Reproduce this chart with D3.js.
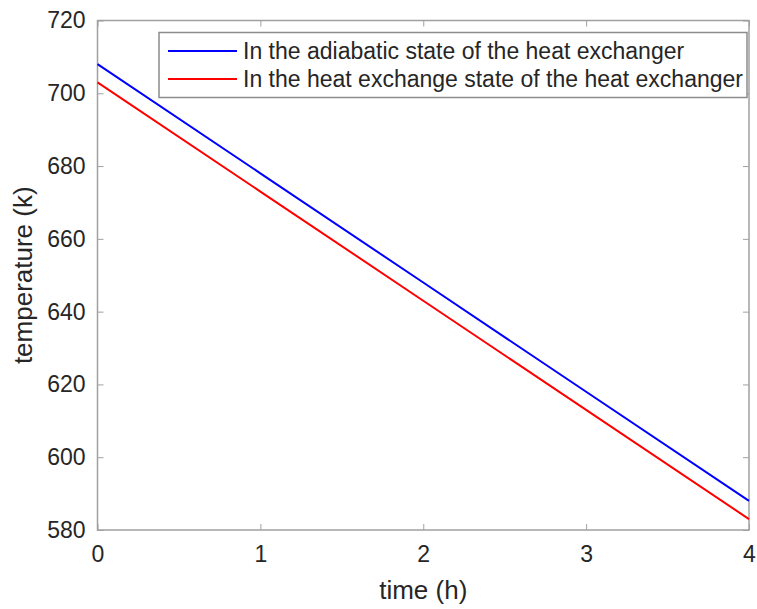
<!DOCTYPE html>
<html>
<head>
<meta charset="utf-8">
<script src="https://cdn.jsdelivr.net/npm/d3@7"></script>
<style>
  html, body { margin: 0; padding: 0; background: #fff; }
  svg { display: block; font-family: "Liberation Sans", Arial, Helvetica, sans-serif; }
</style>
</head>
<body>
<svg id="chart" width="757" height="609"></svg>
<script>
// Time in hours
const timeH = [0, 1, 2, 3, 4];
// Temperature (K) with the heat exchanger adiabatic
const adiabatic = [708, 678, 648, 618, 588];
// Temperature (K) with the heat exchanger exchanging heat
const heatExchange = [703, 673, 643, 613, 583];
const xTicks = [0, 1, 2, 3, 4];
const yTicks = [580, 600, 620, 640, 660, 680, 700, 720];
const seriesNames = [
  "In the adiabatic state of the heat exchanger",
  "In the heat exchange state of the heat exchanger"
];
const seriesColors = ["#0000ff", "#ff0000"];

const svg = d3.select("#chart");
const m = { left: 97.5, top: 20.5, right: 749, bottom: 530 };
const axisColor = "#a0a0a0";
const textColor = "#262626";

const x = d3.scaleLinear().domain([0, 4]).range([m.left, m.right]);
const y = d3.scaleLinear().domain([580, 720]).range([m.bottom, m.top]);

// Inward ticks on all four sides, labels on the left and bottom
const tickLen = 6;
const bottomAxis = d3.axisBottom(x).tickValues(xTicks).tickSize(-tickLen).tickPadding(16).tickFormat(d3.format("d"));
const topAxis = d3.axisTop(x).tickValues(xTicks).tickSize(-tickLen).tickFormat("");
const leftAxis = d3.axisLeft(y).tickValues(yTicks).tickSize(-tickLen).tickPadding(12).tickFormat(d3.format("d"));
const rightAxis = d3.axisRight(y).tickValues(yTicks).tickSize(-tickLen).tickFormat("");

function styleAxis(g) {
  g.select(".domain").remove();
  g.selectAll(".tick line").attr("stroke", axisColor).attr("stroke-width", 1);
  g.selectAll(".tick text").attr("fill", textColor).style("font-size", "23px")
    .style("font-family", "Liberation Sans, Arial, sans-serif");
}

svg.append("g").attr("transform", `translate(0,${m.bottom})`).call(bottomAxis).call(styleAxis);
svg.append("g").attr("transform", `translate(0,${m.top})`).call(topAxis).call(styleAxis);
svg.append("g").attr("transform", `translate(${m.left},0)`).call(leftAxis).call(styleAxis);
svg.append("g").attr("transform", `translate(${m.right},0)`).call(rightAxis).call(styleAxis);

// Plot box
svg.append("rect")
  .attr("x", m.left).attr("y", m.top)
  .attr("width", m.right - m.left).attr("height", m.bottom - m.top)
  .attr("fill", "none").attr("stroke", axisColor).attr("stroke-width", 1.5);

// Series lines
const line = d3.line().x((d, i) => x(timeH[i])).y(d => y(d));
[adiabatic, heatExchange].forEach((s, k) => {
  svg.append("path").datum(s)
    .attr("d", line)
    .attr("fill", "none")
    .attr("stroke", seriesColors[k])
    .attr("stroke-width", 2);
});

// Axis titles
svg.append("text")
  .attr("x", (m.left + m.right) / 2).attr("y", 599)
  .attr("text-anchor", "middle").attr("fill", textColor)
  .style("font-size", "26px").text("time (h)");
svg.append("text")
  .attr("transform", `translate(32,${(m.top + m.bottom) / 2}) rotate(-90)`)
  .attr("text-anchor", "middle").attr("fill", textColor)
  .style("font-size", "26px").text("temperature (k)");

// Legend
const lg = svg.append("g");
lg.append("rect")
  .attr("x", 159).attr("y", 32.5).attr("width", 588).attr("height", 65)
  .attr("fill", "#fff").attr("stroke", "#8c8c8c").attr("stroke-width", 1.5);
seriesNames.forEach((name, k) => {
  const yy = 51 + k * 28;
  lg.append("line").attr("x1", 168).attr("x2", 237).attr("y1", yy).attr("y2", yy)
    .attr("stroke", seriesColors[k]).attr("stroke-width", 2);
  lg.append("text").attr("x", 243).attr("y", yy + 8)
    .attr("fill", textColor).style("font-size", "23px").text(name);
});
</script>
</body>
</html>
